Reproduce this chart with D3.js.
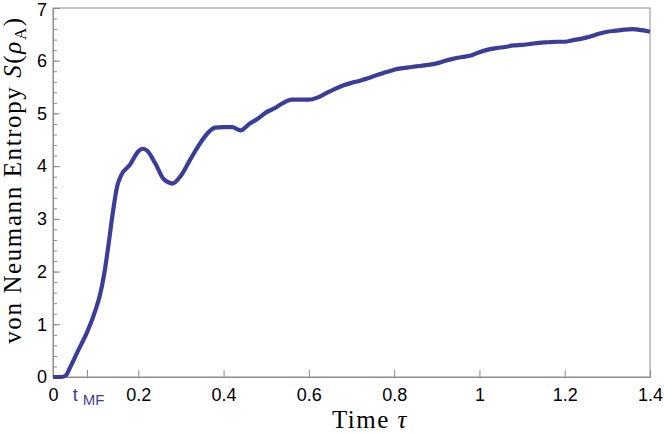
<!DOCTYPE html>
<html>
<head>
<meta charset="utf-8">
<script src="https://cdn.jsdelivr.net/npm/d3@7"></script>
<style>
  body { margin: 0; background: #fff; }
  svg { display: block; }
</style>
</head>
<body>
<svg id="chart"></svg>
<script>
// entropy curve
const times = [0, 0.02, 0.03, 0.04, 0.06, 0.08, 0.10, 0.11, 0.12, 0.13, 0.14, 0.15, 0.16, 0.18, 0.20, 0.21, 0.22,
	0.24, 0.26, 0.28, 0.30, 0.32, 0.34, 0.36, 0.38, 0.40, 0.42, 0.44, 0.46, 0.48, 0.50, 0.52, 0.54, 0.56, 0.58,
	0.60, 0.62, 0.64, 0.66, 0.68, 0.70, 0.72, 0.74, 0.76, 0.78, 0.80, 0.82, 0.84, 0.86, 0.88, 0.90, 0.92, 0.94,
	0.96, 0.98, 1.00, 1.02, 1.04, 1.06, 1.08, 1.10, 1.12, 1.14, 1.16, 1.18, 1.20, 1.22, 1.24, 1.26, 1.28, 1.30,
	1.32, 1.34, 1.36, 1.38, 1.40]
const entropy = [0, 0, 0.03, 0.18, 0.52, 0.85, 1.28, 1.55, 1.95, 2.5, 3.1, 3.6, 3.83, 4.02, 4.28, 4.33, 4.3,
	4.05, 3.75, 3.67, 3.82, 4.1, 4.37, 4.6, 4.73, 4.74, 4.74, 4.68, 4.8, 4.9, 5.02, 5.1, 5.2, 5.26, 5.26,
	5.26, 5.3, 5.38, 5.46, 5.53, 5.58, 5.62, 5.67, 5.73, 5.78, 5.83, 5.86, 5.88, 5.9, 5.92, 5.95, 6.0, 6.04,
	6.07, 6.1, 6.16, 6.21, 6.24, 6.26, 6.29, 6.3, 6.32, 6.34, 6.35, 6.36, 6.36, 6.39, 6.42, 6.46, 6.51, 6.55,
	6.57, 6.59, 6.6, 6.58, 6.55]

const xTicks = [0, 0.2, 0.4, 0.6, 0.8, 1, 1.2, 1.4]
const yTicks = [0, 1, 2, 3, 4, 5, 6, 7]
const yMinorTicks = d3.range(0, 7.001, 0.2)
const tMF = 0.081

const width = 664,
	height = 434
const margin = { top: 8, right: 14, bottom: 57, left: 53 }
const plotW = width - margin.left - margin.right,
	plotH = height - margin.top - margin.bottom

const lineColor = '#3d3d99',
	axisColor = '#8c8c8c'

const svg = d3.select('#chart').attr('width', width).attr('height', height)

const x = d3.scaleLinear().domain([0, 1.4]).range([0, plotW])
const y = d3.scaleLinear().domain([0, 7]).range([plotH, 0])

const g = svg.append('g').attr('transform', 'translate(' + margin.left + ',' + margin.top + ')')

//frame
g.append('rect')
	.attr('width', plotW)
	.attr('height', plotH)
	.attr('fill', 'none')
	.attr('stroke', axisColor)
	.attr('stroke-width', 1)

//y minor ticks
g.append('g')
	.call(d3.axisLeft(y).tickValues(yMinorTicks).tickSize(-4).tickFormat(''))
	.call(a => a.select('.domain').remove())
	.selectAll('line').attr('stroke', axisColor)

//y major
const yAxis = g.append('g')
	.call(d3.axisLeft(y).tickValues(yTicks).tickSize(-7).tickPadding(6).tickFormat(d3.format('d')))
yAxis.select('.domain').attr('stroke', axisColor)
yAxis.selectAll('line').attr('stroke', axisColor)
yAxis.selectAll('text')
	.attr('fill', '#000')
	.style('font-family', '"Liberation Sans", Arial, sans-serif')
	.style('font-size', '18px')
//top label sits right at the edge, nudge it in
yAxis.selectAll('text').filter(d => d === 7).attr('dy', '0.42em')

//x axis
const xAxis = g.append('g')
	.attr('transform', 'translate(0,' + plotH + ')')
	.call(d3.axisBottom(x).tickValues(xTicks).tickSize(-7).tickPadding(11).tickFormat(d => d3.format('~g')(d)))
xAxis.select('.domain').attr('stroke', axisColor)
xAxis.selectAll('line').attr('stroke', axisColor)
xAxis.selectAll('text')
	.attr('fill', '#000')
	.style('font-family', '"Liberation Sans", Arial, sans-serif')
	.style('font-size', '18px')

//t_MF marker
g.append('line')
	.attr('x1', x(tMF)).attr('x2', x(tMF))
	.attr('y1', plotH).attr('y2', plotH - 7)
	.attr('stroke', axisColor)
const tmf = g.append('text')
	.attr('x', x(tMF) + 1)
	.attr('y', plotH + 24)
	.attr('text-anchor', 'middle')
	.attr('fill', lineColor)
	.style('font-family', '"Liberation Sans", Arial, sans-serif')
	.style('font-size', '18px')
tmf.append('tspan').text('t')
tmf.append('tspan').attr('dx', 5).attr('dy', 4).style('font-size', '15px').text('MF')

//curve
const line = d3.line()
	.x((d, i) => x(times[i]))
	.y(d => y(d))
	.curve(d3.curveMonotoneX)

g.append('path')
	.datum(entropy)
	.attr('d', line)
	.attr('fill', 'none')
	.attr('stroke', lineColor)
	.attr('stroke-width', 4.2)
	.attr('stroke-linejoin', 'round')

//axis titles
const serif = '"Liberation Serif", "Times New Roman", serif'
const xt = svg.append('text')
	.attr('x', 370)
	.attr('y', 428)
	.attr('text-anchor', 'middle')
	.style('font-family', serif)
	.style('font-size', '25px')
	.style('letter-spacing', '1.5px')
xt.append('tspan').text('Time ')
xt.append('tspan').style('font-style', 'italic').text('τ')

const yt = svg.append('text')
	.attr('transform', 'translate(21,180) rotate(-90)')
	.attr('text-anchor', 'middle')
	.style('font-family', serif)
	.style('font-size', '25px')
	.style('letter-spacing', '1.6px')
yt.append('tspan').text('von Neumann Entropy ')
yt.append('tspan').style('font-style', 'italic').text('S')
yt.append('tspan').text('(')
yt.append('tspan').style('font-style', 'italic').text('ρ')
yt.append('tspan').attr('dy', 5).style('font-size', '17px').text('A')
yt.append('tspan').attr('dy', -5).text(')')
</script>
</body>
</html>
